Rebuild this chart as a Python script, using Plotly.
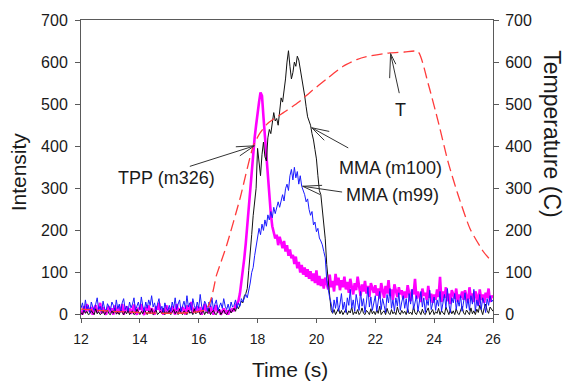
import plotly.graph_objects as go

# ---- data (sampled every 0.05 s from 12.00 s to 26.00 s) ----
T_START = 12.0
T_STEP = 0.05

mma_m100 = [
    5, 0, 12, 3, 8, 0, 2, 10, 4, 0, 14, 2, 7, 0, 3, 9, 0, 6, 11, 2,                      # 12
    0, 9, 3, 15, 1, 6, 0, 11, 4, 0, 8, 2, 12, 0, 5, 9, 0, 3, 13, 6,                      # 13
    0, 8, 2, 12, 5, 0, 9, 3, 14, 0, 6, 11, 0, 4, 8, 2, 15, 0, 7, 3,                      # 14
    10, 0, 5, 12, 2, 8, 0, 13, 4, 0, 9, 6, 0, 11, 3, 7, 0, 14, 2, 5,                     # 15
    9, 0, 4, 12, 0, 7, 3, 15, 0, 6, 10, 2, 0, 8, 13, 0, 5, 11, 3, 0,                     # 16
    7, 12, 4, 9, 15, 8, 20, 14, 25, 32, 28, 45, 50, 62, 105, 140, 190, 235, 275, 300,    # 17
    395, 360, 330, 380, 410, 375, 365, 420, 440, 430, 455, 480, 460, 466, 450, 490, 515, 505, 530, 560,  # 18
    600, 627, 590, 560, 575, 600, 590, 614, 605, 585, 560, 545, 520, 494, 470, 460, 450, 430, 415, 392,  # 19
    370, 330, 295, 285, 250, 228, 180, 119, 80, 30, 10, 3, 12, 0, 8, 15, 2, 10, 0, 6,    # 20
    13, 0, 9, 4, 18, 0, 7, 2, 12, 0, 5, 16, 3, 0, 10, 6, 0, 14, 2, 8,                    # 21
    0, 11, 3, 20, 0, 6, 9, 0, 15, 4, 0, 12, 2, 7, 0, 18, 5, 0, 10, 3,                    # 22
    8, 0, 14, 2, 6, 0, 19, 4, 0, 11, 7, 0, 13, 3, 0, 9, 16, 0, 5, 12,                    # 23
    0, 7, 3, 15, 0, 10, 4, 0, 18, 6, 0, 12, 2, 9, 0, 14, 3, 0, 8, 20,                    # 24
    4, 0, 11, 6, 0, 16, 2, 9, 0, 13, 5, 22, 8, 0, 15, 25, 10, 3, 18, 12,                 # 25
    8,                                                                                    # 26
]

mma_m99 = [
    15, 28, 8, 35, 12, 22, 5, 30, 18, 10, 25, 40, 12, 20, 6, 32, 15, 8, 26, 18,
    10, 30, 22, 8, 35, 14, 25, 5, 28, 38, 12, 20, 8, 30, 16, 25, 40, 10, 22, 30,
    12, 42, 20, 8, 30, 15, 35, 22, 45, 18, 28, 10, 25, 38, 12, 20, 5, 28, 15, 10,
    22, 8, 30, 15, 40, 12, 25, 35, 8, 20, 32, 14, 45, 18, 28, 10, 38, 22, 12, 30,
    15, 48, 20, 10, 32, 25, 8, 30, 18, 40, 12, 25, 35, 10, 22, 28, 15, 38, 20, 12,
    25, 10, 30, 18, 22, 35, 15, 28, 20, 38, 30, 42, 48, 40, 57, 75, 100, 112, 140, 159,
    180, 205, 190, 215, 200, 225, 210, 237, 225, 245, 230, 255, 240, 252, 268, 255, 275, 285, 270, 299,
    310, 295, 330, 345, 320, 350, 325, 340, 310, 330, 305, 295, 285, 268, 275, 250, 236, 245, 213, 220,
    197, 205, 182, 175, 166, 150, 135, 82, 55, 40, 27, 5, 35, 15, 42, 8, 25, 50, 12, 30,
    5, 40, 22, 60, 15, 35, 8, 48, 28, 10, 55, 20, 38, 5, 30, 65, 18, 42, 10, 25,
    45, 8, 30, 55, 12, 38, 22, 5, 48, 28, 62, 15, 35, 8, 40, 20, 52, 10, 30, 45,
    15, 38, 5, 50, 25, 60, 12, 32, 45, 8, 28, 55, 18, 40, 5, 35, 22, 58, 12, 30,
    42, 10, 35, 20, 55, 8, 30, 48, 15, 62, 25, 5, 40, 28, 50, 12, 35, 20, 45, 8,
    30, 52, 15, 38, 10, 45, 25, 60, 8, 35, 20, 48, 12, 40, 28, 5, 38, 22, 45, 30,
    35,
]

tpp_m326 = [
    10, 0, 20, 5, 25, 12, 8, 18, 0, 15, 22, 5, 12, 28, 3, 18, 8, 0, 14, 20,
    5, 15, 0, 22, 10, 3, 18, 8, 25, 0, 12, 20, 5, 15, 2, 10, 24, 6, 0, 16,
    12, 25, 5, 0, 18, 10, 22, 3, 15, 8, 0, 20, 12, 28, 5, 14, 0, 10, 22, 6,
    15, 3, 20, 10, 0, 25, 8, 15, 5, 18, 12, 0, 22, 6, 14, 30, 3, 12, 8, 20,
    5, 18, 0, 12, 25, 8, 15, 3, 20, 10, 0, 14, 22, 5, 12, 0, 8, 15, 3, 10,
    0, 12, 6, 15, 8, 22, 25, 33, 50, 75, 103, 135, 170, 215, 250, 300, 340, 377, 420, 450,
    485, 505, 528, 520, 470, 420, 384, 320, 274, 240, 210, 195, 181, 190, 165, 185, 170, 158, 175, 150,
    165, 140, 155, 134, 142, 120, 138, 110, 125, 100, 118, 95, 112, 90, 108, 85, 103, 80, 98, 75,
    105, 70, 92, 68, 85, 62, 88, 72, 60, 95, 65, 80, 55, 97, 70, 88, 58, 82, 65, 90,
    60, 78, 52, 85, 66, 48, 75, 58, 90, 62, 45, 72, 55, 80, 50, 68, 42, 75, 60, 52,
    70, 45, 62, 38, 75, 55, 40, 68, 50, 82, 45, 60, 35, 72, 52, 42, 65, 48, 58, 38,
    55, 40, 70, 45, 32, 60, 48, 85, 38, 55, 42, 30, 62, 45, 52, 35, 68, 40, 50, 28,
    48, 35, 60, 42, 90, 30, 55, 40, 65, 32, 50, 25, 58, 45, 38, 62, 30, 48, 40, 55,
    35, 58, 42, 28, 65, 38, 50, 30, 55, 45, 22, 60, 35, 48, 28, 52, 40, 62, 30, 45,
    40,
]

temp_time = [12.0, 16.24, 16.61, 16.95, 17.4, 17.85, 18.08, 18.31, 18.53, 18.99,
             19.4, 19.78, 20.35, 20.91, 21.37, 21.7, 22.5, 23.0, 23.45, 23.8,
             24.14, 24.48, 24.82, 25.22, 25.67, 25.86]
temp_vals = [13, 13, 95, 165, 275, 400, 431, 452, 464, 485,
             505, 528, 560, 590, 606, 613, 622, 624, 625, 548,
             458, 361, 283, 204, 150, 134]

x_ticks = [12, 14, 16, 18, 20, 22, 24, 26]
y_ticks = [0, 100, 200, 300, 400, 500, 600, 700]

# labels: (text, t, value)
labels = [
    ("TPP (m326)", 14.89, 324),
    ("MMA (m100)", 22.50, 349),
    ("MMA (m99)", 22.60, 284),
    ("T", 22.87, 487),
]
# arrows: tip (t, value), tail offset, head offsets (pixels)
arrows = [
    (17.89, 401, (-66, 21), [(-20, 1), (-16, 11)]),
    (19.84, 444, (38, 21), [(19, 4), (14, 14)]),
    (19.53, 305, (41, 6), [(21, -1), (19, 9)]),
    (22.52, 620, (9, 41), [(-1, 26), (6, 12)]),
]

for s in (mma_m100, mma_m99, tpp_m326):
    assert len(s) == 281, len(s)

FONT = "Liberation Sans, Arial, sans-serif"
AX_COL = "#5a5a5a"
TXT = "#1a1a1a"

fig = go.Figure()
fig.add_trace(go.Scatter(x0=T_START, dx=T_STEP, y=tpp_m326, mode="lines",
                         line=dict(color="#ff00ff", width=2.6), name="TPP (m326)"))
fig.add_trace(go.Scatter(x0=T_START, dx=T_STEP, y=mma_m100, mode="lines",
                         line=dict(color="#111111", width=1), name="MMA (m100)"))
fig.add_trace(go.Scatter(x0=T_START, dx=T_STEP, y=mma_m99, mode="lines",
                         line=dict(color="#1a1aff", width=1), name="MMA (m99)"))
fig.add_trace(go.Scatter(x=temp_time, y=temp_vals, mode="lines", yaxis="y2",
                         line=dict(color="#ff3b3b", width=1.3, dash="11px,5px", shape="spline",
                                   smoothing=0.6),
                         name="T"))

annotations = []
for text, t, v in labels:
    annotations.append(dict(x=t, y=v, xref="x", yref="y", text=text, showarrow=False,
                            font=dict(family=FONT, size=18, color=TXT)))
for t, v, tail, heads in arrows:
    for (ax, ay) in [tail] + heads:
        annotations.append(dict(x=t, y=v, xref="x", yref="y", text="", showarrow=True,
                                arrowhead=0, arrowwidth=1, arrowcolor="#333333",
                                ax=ax, ay=ay, standoff=0, startstandoff=0))

# axis titles
annotations.append(dict(x=-0.153, y=0.492, xref="paper", yref="paper", text="Intensity",
                        textangle=-90, showarrow=False, xanchor="center", yanchor="middle",
                        font=dict(family=FONT, size=21, color=TXT)))
annotations.append(dict(x=0.507, y=-0.172, xref="paper", yref="paper", text="Time (s)",
                        showarrow=False, xanchor="center", yanchor="middle",
                        font=dict(family=FONT, size=21, color=TXT)))
annotations.append(dict(x=1.143, y=0.617, xref="paper", yref="paper", text="Temperature (C)",
                        textangle=90, showarrow=False, xanchor="center", yanchor="middle",
                        font=dict(family=FONT, size=23, color=TXT)))

fig.update_layout(
    width=565, height=385,
    margin=dict(l=81, r=72, t=15, b=67),
    paper_bgcolor="white", plot_bgcolor="white",
    showlegend=False,
    annotations=annotations,
    xaxis=dict(range=[12, 26], tickvals=x_ticks, ticks="outside", ticklen=4,
               tickcolor=AX_COL, showline=True, linecolor=AX_COL, linewidth=1,
               mirror=True, showgrid=False, zeroline=False,
               tickfont=dict(family=FONT, size=14, color=TXT), ticklabelstandoff=4),
    yaxis=dict(range=[-8, 700], tickvals=y_ticks, ticks="outside", ticklen=5,
               tickcolor=AX_COL, showline=True, linecolor=AX_COL, linewidth=1,
               showgrid=False, zeroline=False,
               tickfont=dict(family=FONT, size=16, color=TXT), ticklabelstandoff=4),
    yaxis2=dict(range=[-8, 700], tickvals=y_ticks, ticks="outside", ticklen=5,
                tickcolor=AX_COL, showline=True, linecolor=AX_COL, linewidth=1,
                overlaying="y", side="right", showgrid=False, zeroline=False,
                tickfont=dict(family=FONT, size=16, color=TXT), ticklabelstandoff=3),
)

fig.write_html("out.html")
